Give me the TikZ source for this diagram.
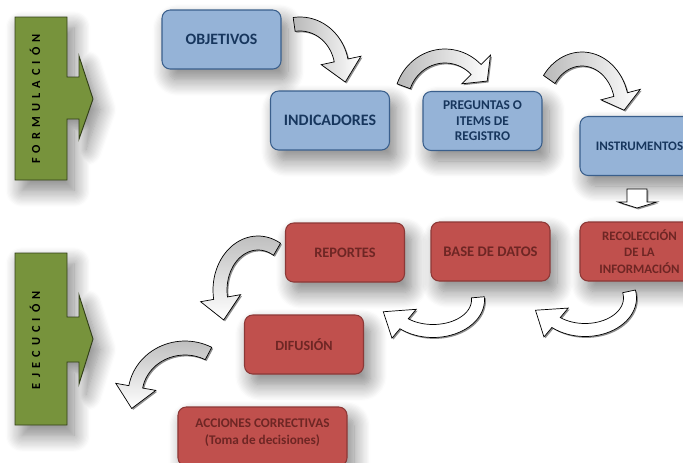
\documentclass[tikz,border=0pt]{standalone}
\usepackage{fontspec}
\setmainfont{Carlito}
\newfontfamily\spacedfont[LetterSpace=42]{Carlito}
\usetikzlibrary{shadows,shadows.blur}

\definecolor{boxblue}{HTML}{95B3D7}
\definecolor{lineblue}{HTML}{3A5F8C}
\definecolor{textblue}{HTML}{17365D}
\definecolor{boxred}{HTML}{C0504D}
\definecolor{linered}{HTML}{8C3836}
\definecolor{textred}{HTML}{6E2624}
\definecolor{phasegreen}{HTML}{77933C}
\definecolor{linegreen}{HTML}{323F19}

\tikzset{
	softshadow/.style={blur shadow={shadow xshift=6pt, shadow yshift=-9pt, shadow blur radius=14pt,
		shadow blur steps=14, shadow opacity=50}},
	stepbox/.style={rectangle, rounded corners=7pt, line width=0.9pt, align=center,
		minimum width=3.57cm, minimum height=1.77cm, softshadow},
	bluebox/.style={stepbox, draw=lineblue, fill=boxblue, text=textblue},
	redbox/.style={stepbox, draw=linered, fill=boxred, text=textred},
	pt/.style 2 args={font=\bfseries\fontsize{#1}{#2}\selectfont},
	phase/.style={draw=linegreen, line width=0.8pt, fill=phasegreen, softshadow},
	curly/.style={draw=black, line width=0.6pt,
		drop shadow={shadow xshift=1.2pt, shadow yshift=-1.2pt, fill=black!55, opacity=0.8}}
}

% curved block arrow: [look]{cx}{cy}{rx}{ry}{from}{to}{band}{head length}
\newcommand{\bentarrow}[9][]{%
	\pgfmathsetmacro{\arS}{sign(#7-#6)}
	\pgfmathsetmacro{\arW}{#8/2}
	\pgfmathsetmacro{\arH}{1.45*#8}
	\pgfmathsetmacro{\arTx}{-\arS*#4*sin(#7)}
	\pgfmathsetmacro{\arTy}{\arS*#5*cos(#7)}
	\pgfmathsetmacro{\arTn}{veclen(\arTx,\arTy)}
	\pgfmathsetmacro{\arPx}{#2+#4*cos(#7)+#9*\arTx/\arTn}
	\pgfmathsetmacro{\arPy}{#3+#5*sin(#7)+#9*\arTy/\arTn}
	\draw
		[curly,#1]
		plot[domain=#6:#7, samples=30] ({#2+(#4+\arW)*cos(\x)},{#3+(#5+\arW)*sin(\x)})
		-- ({#2+(#4+\arH)*cos(#7)},{#3+(#5+\arH)*sin(#7)})
		-- (\arPx,\arPy)
		-- ({#2+(#4-\arH)*cos(#7)},{#3+(#5-\arH)*sin(#7)})
		-- plot[domain=#7:#6, samples=30] ({#2+(#4-\arW)*cos(\x)},{#3+(#5-\arW)*sin(\x)})
		-- cycle;
}

\begin{document}
\begin{tikzpicture}[x=0.03cm, y=-0.03cm]
	\useasboundingbox (0,0) rectangle (683,462);
	\clip (0,0) rectangle (683,462);

	% phases
	\draw
		[phase] (15,17) -- (67,17) -- (67,77) -- (79,77) -- (79,56) -- (93,99)
		-- (79,139) -- (79,119) -- (67,119) -- (67,180) -- (15,180) -- cycle;
	\draw
		[phase] (15,253) -- (67,253) -- (67,317) -- (79,317) -- (79,295) -- (93,339)
		-- (79,384) -- (79,362) -- (67,362) -- (67,425) -- (15,425) -- cycle;

	\node (formulacion) at (35,99) [rotate=90, font=\spacedfont\bfseries\fontsize{10.5}{12}\selectfont] {FORMULACIÓN};
	\node (ejecucion) at (35,340) [rotate=90, font=\spacedfont\bfseries\fontsize{10.5}{12}\selectfont] {EJECUCIÓN};

	% formulation steps
	\node (objetivos) at (221.5,39.5) [bluebox, pt={13.5}{15}] {OBJETIVOS};
	\node (indicadores) at (330,120.5) [bluebox, pt={13.6}{15}] {INDICADORES};
	\node (preguntas) at (482.5,121) [bluebox, pt={11.4}{13.3}] {PREGUNTAS O\\ITEMS DE\\REGISTRO};
	\node (instrumentos) at (639.5,146) [bluebox, pt={11.1}{13}] {INSTRUMENTOS};

	% execution steps
	\node (recoleccion) at (639.5,251.5) [redbox, pt={11}{14.2}] {RECOLECCIÓN\\DE LA\\INFORMACIÓN};
	\node (basedatos) at (490.5,251.5) [redbox, pt={12.5}{14}] {BASE DE DATOS};
	\node (reportes) at (345,252.5) [redbox, pt={12.3}{14}] {REPORTES};
	\node (difusion) at (304,344.5) [redbox, pt={12}{14}] {DIFUSIÓN};
	\node (acciones) at (262.5,436.5) [redbox, pt={11.3}{14.5}, minimum width=5.07cm]
		{\raisebox{0.12cm}[\height][\depth]{%
		\begin{tabular}{@{}c@{}}ACCIONES CORRECTIVAS\\(Toma de decisiones)\end{tabular}}};

	% curved arrows
	\bentarrow[left color=gray!55, right color=white]{300}{70}{42}{46}{-98}{-12}{14}{22}
	\bentarrow[left color=gray!55, right color=white]{445}{102}{44}{46}{-160}{-45}{14}{16}
	\bentarrow[left color=gray!55, right color=white]{582}{107}{40}{48}{-145}{-15}{14}{16}

	\draw
		[curly, fill=white] (627,189) -- (647,189) -- (647,202) -- (657,202)
		-- (637,208) -- (618,202) -- (627,202) -- cycle;

	\bentarrow[fill=white]{585}{298}{45}{32}{-12}{130}{13}{24}
	\bentarrow[fill=white]{433}{300}{45}{31}{-5}{130}{13}{24}
	\bentarrow[top color=gray!50, bottom color=white]{258}{290}{38}{47}{-60}{-190}{14}{22}
	\bentarrow[top color=gray!50, bottom color=white]{185}{395}{50}{47}{-62}{-170}{14}{22}
\end{tikzpicture}
\end{document}
